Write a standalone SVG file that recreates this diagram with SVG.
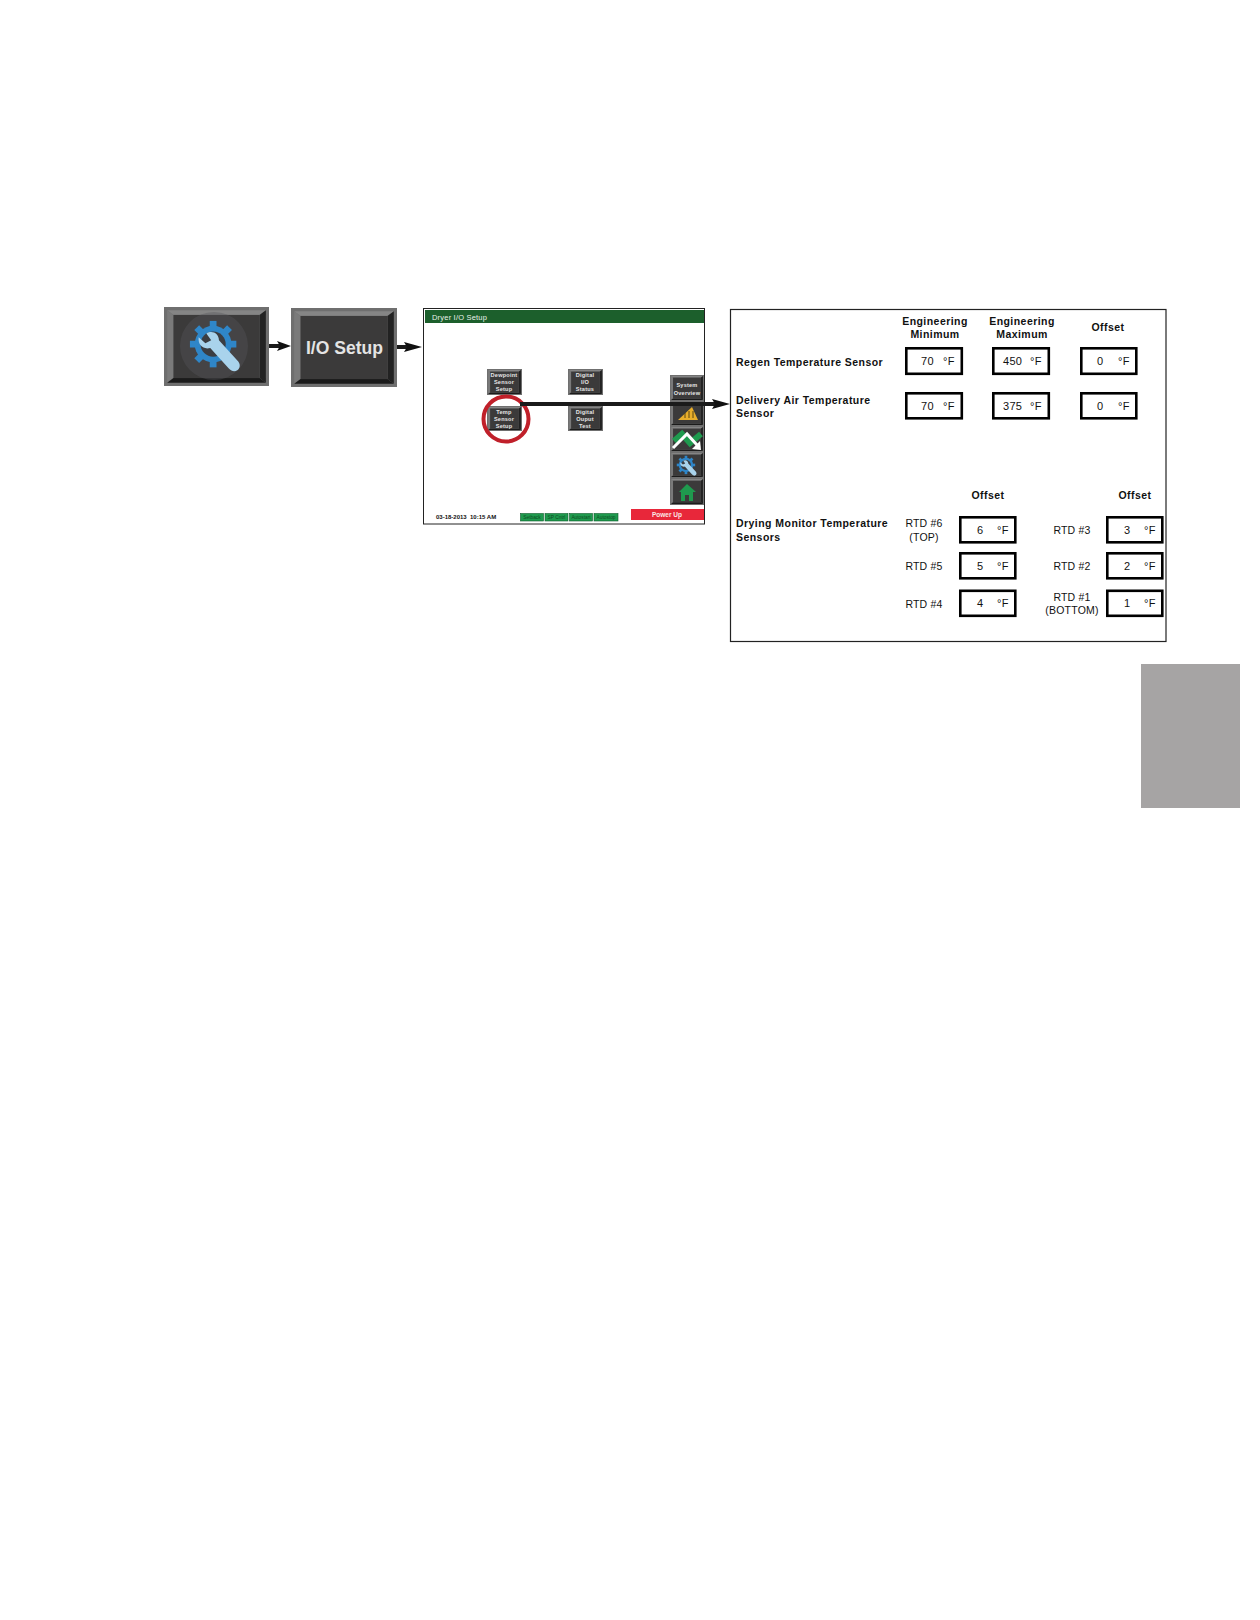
<svg xmlns="http://www.w3.org/2000/svg" width="1260" height="1620" viewBox="0 0 1260 1620">
<style>
text{font-family:"Liberation Sans",Arial,sans-serif;fill:#111}
.b{font-weight:bold;font-size:10.5px;letter-spacing:.45px}
.c{text-anchor:middle}
.n{font-size:10.5px;letter-spacing:.2px;-webkit-text-stroke:.25px #111}
.v{font-size:11px;letter-spacing:.3px;-webkit-text-stroke:.15px #111}
.box{fill:#fff;stroke:#000;stroke-width:2.6}
.w{fill:#e6e6e6;font-weight:bold;font-size:5.6px;text-anchor:middle;letter-spacing:.2px}
.st{fill:#0d4d22;font-size:4.8px;text-anchor:middle}
.gb{fill:#1f9a4e;stroke:#0f5a2c;stroke-width:.6}
.line{stroke:#1a1a1a;fill:none}
</style>
<defs>
<symbol id="bevel" viewBox="0 0 100 100" preserveAspectRatio="none">
<rect width="100" height="100" fill="#6f6f6f"/>
<polygon points="3,4 97,4 91,10 9,10" fill="#858585"/>
<polygon points="3,4 9,10 9,90 3,96" fill="#7a7a7a"/>
<polygon points="97,4 97,96 91,90 91,10" fill="#222"/>
<polygon points="3,96 97,96 91,90 9,90" fill="#1b1b1b"/>
<rect x="9" y="10" width="82" height="80" fill="#3b3a3a"/>
</symbol>
<symbol id="tool" viewBox="0 0 60 60">
<g transform="translate(26,26)" fill="#2f86c8">
<circle r="19"/>
<rect x="-3.500" y="-24" width="7" height="48"/><rect x="-3.500" y="-24" width="7" height="48" transform="rotate(45)"/><rect x="-3.500" y="-24" width="7" height="48" transform="rotate(90)"/><rect x="-3.500" y="-24" width="7" height="48" transform="rotate(135)"/>
<circle r="13" fill="#3b3d42"/>
</g>
<path d="M19 15 C25 11 32 15 32 22 L52 44 C55 48 53 52 51 53 C48 55 45 54 42 51 L23 30 C16 32 10 27 11 19 L18 25 L24 22 Z" fill="#a9d3ec"/>
</symbol>
<marker id="ah" markerUnits="userSpaceOnUse" markerWidth="18" markerHeight="10" refX="8" refY="5" orient="auto"><path d="M0 0 L18 5 L0 10 L3 5 Z" fill="#111"/></marker>
<marker id="ahs" markerUnits="userSpaceOnUse" markerWidth="14" markerHeight="10" refX="6" refY="5" orient="auto"><path d="M0 0 L14 5 L0 10 L3 5 Z" fill="#111"/></marker>
</defs>

<g id="connectors">
<path class="line" stroke-width="4" d="M269 346H283" marker-end="url(#ahs)"/>
<path class="line" stroke-width="4" d="M397 347H412" marker-end="url(#ah)"/>
</g>

<g id="tools-button">
<use href="#bevel" x="164" y="307" width="105" height="79"/>
<circle cx="214" cy="346" r="34" fill="#55555a" opacity=".4"/>
<use href="#tool" x="188" y="319" width="58" height="58"/>
</g>

<g id="io-setup-button">
<use href="#bevel" x="291" y="308" width="106" height="79"/>
<text x="306" y="354" textLength="77" lengthAdjust="spacingAndGlyphs" style="fill:#e4e4e4;font-size:18px;font-weight:bold">I/O Setup</text>
</g>

<g id="dryer-screen">
<rect x="423.500" y="308.500" width="281" height="215.500" fill="#fff" stroke="#222" stroke-width="1"/>
<rect x="425" y="310" width="279" height="13" fill="#1c5f2c"/>
<text x="432" y="320" style="fill:#e8f0e8;font-size:7.500px;letter-spacing:.2px">Dryer I/O Setup</text>

<g id="btn-dewpoint"><use href="#bevel" x="487" y="369" width="35" height="26"/><text class="w" x="504" y="377">Dewpoint</text><text class="w" x="504" y="384">Sensor</text><text class="w" x="504" y="391">Setup</text></g>
<g id="btn-digital-io"><use href="#bevel" x="568" y="369" width="35" height="26"/><text class="w" x="585" y="377">Digital</text><text class="w" x="585" y="384">I/O</text><text class="w" x="585" y="391">Status</text></g>
<g id="btn-temp"><use href="#bevel" x="487" y="406" width="35" height="25"/><text class="w" x="504" y="414">Temp</text><text class="w" x="504" y="421">Sensor</text><text class="w" x="504" y="428">Setup</text></g>
<g id="btn-digital-out"><use href="#bevel" x="568" y="406" width="35" height="25"/><text class="w" x="585" y="414">Digital</text><text class="w" x="585" y="421">Ouput</text><text class="w" x="585" y="428">Test</text></g>

<g id="side-overview"><use href="#bevel" x="670" y="375" width="34" height="26"/><text class="w" x="687" y="387">System</text><text class="w" x="687" y="395">Overview</text></g>
<g id="side-alarms"><use href="#bevel" x="670" y="401" width="34" height="25"/><path d="M678 420 L692 407 L698 420 Z" fill="#e9ae2b"/><path d="M685 413V418M689 411V418M693 411V418" stroke="#4a3a10" stroke-width=".9"/></g>
<g id="side-trend"><use href="#bevel" x="670" y="426" width="34" height="26"/><path d="M674 441 L682 434 L690 443 L701 434" fill="none" stroke="#1f9a4e" stroke-width="6"/><path d="M673 448 L687 434 L697 445" fill="none" stroke="#fff" stroke-width="3"/><path d="M701 450 L692 449 L700 441 Z" fill="#fff"/></g>
<g id="side-tools"><use href="#bevel" x="670" y="452" width="34" height="26"/><use href="#tool" x="676" y="455" width="23" height="23"/></g>
<g id="side-home"><use href="#bevel" x="670" y="478" width="34" height="27"/><path d="M687 484 L679 492 H681 V501 H685 V495 H689 V501 H693 V492 H696 Z" fill="#1f9a4e"/></g>

<text x="436" y="519" style="font-size:6px;font-weight:bold">03-18-2013 &#160;10:15 AM</text>
<rect class="gb" x="520.500" y="513.500" width="23" height="7.500"/><text class="st" x="532" y="519">Setback</text>
<rect class="gb" x="545" y="513.500" width="23" height="7.500"/><text class="st" x="556.500" y="519">SP Cntrl</text>
<rect class="gb" x="569.500" y="513.500" width="23" height="7.500"/><text class="st" x="581" y="519">Autostart</text>
<rect class="gb" x="594" y="513.500" width="24" height="7.500"/><text class="st" x="606" y="519">Autostop</text>
<rect x="631" y="509" width="73" height="11" fill="#e8273a"/>
<text x="667" y="517" text-anchor="middle" style="fill:#fbe8e8;font-size:6.500px;font-weight:bold">Power Up</text>
<circle id="highlight" cx="506" cy="419" r="22.500" fill="none" stroke="#c0202a" stroke-width="4"/>
</g>

<g id="connector-main">
<path class="line" stroke-width="4" d="M520 404H720" marker-end="url(#ah)"/>
</g>

<g id="settings-panel">
<rect x="730.500" y="309.500" width="435.500" height="332" fill="#fff" stroke="#222" stroke-width="1.200"/>
<text class="b c" x="935" y="325">Engineering</text><text class="b c" x="935" y="338">Minimum</text>
<text class="b c" x="1022" y="325">Engineering</text><text class="b c" x="1022" y="338">Maximum</text>
<text class="b c" x="1108" y="331">Offset</text>
<text class="b" x="736" y="366">Regen Temperature Sensor</text>
<text class="b" x="736" y="404">Delivery Air Temperature</text><text class="b" x="736" y="417">Sensor</text>
<text class="b" x="736" y="527">Drying Monitor Temperature</text><text class="b" x="736" y="541">Sensors</text>
<text class="b c" x="988" y="499">Offset</text><text class="b c" x="1135" y="499">Offset</text>

<g id="v-regen-min"><rect class="box" x="906.300" y="348.300" width="55.500" height="25.500"/><text class="v" x="921" y="365">70</text><text class="v" x="943" y="365">°F</text></g>
<g id="v-regen-max"><rect class="box" x="993.300" y="348.300" width="55.500" height="25.500"/><text class="v" x="1003" y="365">450</text><text class="v" x="1030" y="365">°F</text></g>
<g id="v-regen-off"><rect class="box" x="1081.300" y="348.300" width="55" height="25.500"/><text class="v" x="1097" y="365">0</text><text class="v" x="1118" y="365">°F</text></g>
<g id="v-deliv-min"><rect class="box" x="906.300" y="393.300" width="55.500" height="25"/><text class="v" x="921" y="410">70</text><text class="v" x="943" y="410">°F</text></g>
<g id="v-deliv-max"><rect class="box" x="993.300" y="393.300" width="55.500" height="25"/><text class="v" x="1003" y="410">375</text><text class="v" x="1030" y="410">°F</text></g>
<g id="v-deliv-off"><rect class="box" x="1081.300" y="393.300" width="55" height="25"/><text class="v" x="1097" y="410">0</text><text class="v" x="1118" y="410">°F</text></g>

<g id="rtd6"><text class="n c" x="924" y="527">RTD #6</text><text class="n c" x="924" y="541">(TOP)</text><rect class="box" x="960.300" y="517.300" width="55" height="25"/><text class="v" x="977" y="534">6</text><text class="v" x="997" y="534">°F</text></g>
<g id="rtd5"><text class="n c" x="924" y="570">RTD #5</text><rect class="box" x="960.300" y="553.300" width="55" height="25"/><text class="v" x="977" y="570">5</text><text class="v" x="997" y="570">°F</text></g>
<g id="rtd4"><text class="n c" x="924" y="608">RTD #4</text><rect class="box" x="960.300" y="590.800" width="55" height="25"/><text class="v" x="977" y="607">4</text><text class="v" x="997" y="607">°F</text></g>
<g id="rtd3"><text class="n c" x="1072" y="534">RTD #3</text><rect class="box" x="1107.300" y="517.300" width="55" height="25"/><text class="v" x="1124" y="534">3</text><text class="v" x="1144" y="534">°F</text></g>
<g id="rtd2"><text class="n c" x="1072" y="570">RTD #2</text><rect class="box" x="1107.300" y="553.300" width="55" height="25"/><text class="v" x="1124" y="570">2</text><text class="v" x="1144" y="570">°F</text></g>
<g id="rtd1"><text class="n c" x="1072" y="601">RTD #1</text><text class="n c" x="1072" y="614">(BOTTOM)</text><rect class="box" x="1107.300" y="590.800" width="55" height="25"/><text class="v" x="1124" y="607">1</text><text class="v" x="1144" y="607">°F</text></g>
</g>

<rect id="side-tab" x="1141" y="664" width="99" height="144" fill="#a6a4a4"/>
</svg>
